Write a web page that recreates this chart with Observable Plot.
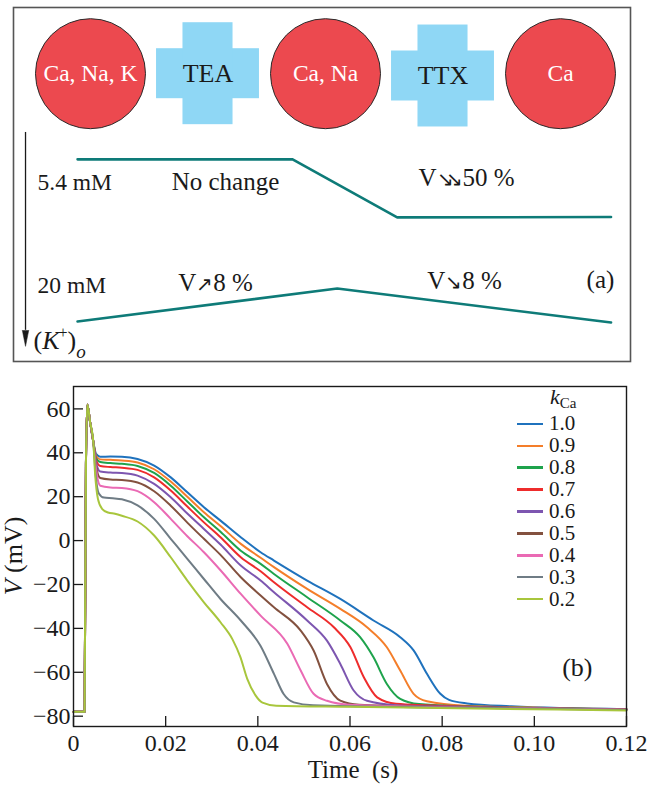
<!DOCTYPE html>
<html>
<head>
<meta charset="utf-8">
<script src="https://cdn.jsdelivr.net/npm/d3@7"></script>
<script src="https://cdn.jsdelivr.net/npm/@observablehq/plot@0.6"></script>
<style>
  html, body { margin: 0; padding: 0; background: #fff; }
  #wrap { position: relative; width: 652px; height: 788px; overflow: hidden;
          font-family: "Liberation Serif", "Times New Roman", serif; color: #1a1a1a; }
  #panelA { position: absolute; left: 0; top: 0; }
  #panelB { position: absolute; left: 0; top: 372px; }
  #legend { position: absolute; left: 517px; top: 413px; }
  #legendTitle { position: absolute; left: 550px; top: 386px; font-size: 22px; line-height: 22px; }
  #legendTitle sub { font-size: 15px; vertical-align: -4px; font-style: normal; }
  .lrow { height: 21.9px; display: flex; align-items: center; }
  .lline { width: 26px; height: 2.5px; }
  .llab { margin-left: 6px; font-size: 21px; line-height: 1; }
</style>
</head>
<body>
<div id="wrap">
  <div id="panelA"></div>
  <div id="panelB"></div>
  <div id="legendTitle"><i>k</i><sub>Ca</sub></div>
  <div id="legend"></div>
</div>
<script>
// ---------------- Panel (a): schematic ----------------
const stageIndex  = [0, 1, 2, 3, 4];
const stageKind   = ["channel", "blocker", "channel", "blocker", "channel"];
const stageLabels = ["Ca, Na, K", "TEA", "Ca, Na", "TTX", "Ca"];
const stageRow    = [18.7, 18.7, 18.7, 19.35, 18.7];

const k54Stage = [-0.11, 1.72, 2.61, 4.43];
const k54Row   = [42.9, 42.9, 59.3, 59.2];
const k20Stage = [-0.11, 2.10, 4.43];
const k20Row   = [88.7, 79.4, 89.0];

const concLabels = ["5.4 mM", "20 mM"];
const concStage  = [-0.451, -0.451];
const concRow    = [49.4, 78.5];

const effectLabels = ["No change", "V↘↘50 %", "V↗8 %", "V↘8 %", "(a)"];
const effectStage  = [1.149, 3.20, 1.064, 3.183, 4.34];
const effectRow    = [49.4, 48.3, 77.7, 77.4, 77.1];

const kAxisStage = [-0.553];
const kAxisRow   = [35.3, 91.2];
const kLabel = ["(K+)o"];
const kLabelStage = [-0.485];
const kLabelRow = [94.0];

// ---------------- Panel (b): action potentials ----------------
const kCa = ["1.0", "0.9", "0.8", "0.7", "0.6", "0.5", "0.4", "0.3", "0.2"];
const lineColors = ["#1f72bd", "#f47e2a", "#1ea34c", "#ee2c2c", "#7d56b0",
                    "#83513f", "#ea6ab4", "#6f7c85", "#a8c63c"];

const spike = [[0, -78], [0.0024, -78], [0.0027, 35], [0.0030, 62], [0.0036, 54], [0.0043, 45]];

const ap10 = [[0.0049, 39.5], [0.0058, 38.2], [0.0080, 38.3], [0.0105, 38.2], [0.0139, 37.2], [0.0175, 34.2],
  [0.0211, 28.8], [0.0247, 22], [0.0283, 15.2], [0.0319, 9.1], [0.0363, 1.5], [0.0406, -5.3], [0.0435, -9.1],
  [0.0507, -18.2], [0.0579, -26.6], [0.0651, -36.4], [0.0709, -44], [0.0738, -50], [0.0767, -60.7],
  [0.0796, -69.8], [0.0815, -72.6], [0.0854, -74.2], [0.095, -75.5], [0.12, -76.8]];
const ap09 = [[0.0049, 38.5], [0.0058, 37], [0.0080, 36.8], [0.0105, 36.5], [0.0139, 35.6], [0.0175, 32.5],
  [0.0211, 26.9], [0.0247, 20], [0.0283, 12.9], [0.0319, 6.6], [0.0363, -1.5], [0.0406, -7.8], [0.0435, -12.1],
  [0.0507, -22], [0.0579, -31.1], [0.0637, -39.5], [0.068, -48.6], [0.0709, -59.2], [0.0738, -69.8],
  [0.0767, -73.2], [0.085, -75.2], [0.12, -76.8]];
const ap08 = [[0.0049, 37.5], [0.0058, 35.8], [0.0080, 35.3], [0.0105, 35], [0.0139, 34], [0.0175, 30.8],
  [0.0211, 25], [0.0247, 17.8], [0.0283, 10.6], [0.0319, 4], [0.0363, -4.6], [0.0406, -10.6], [0.0435, -15.2],
  [0.0507, -25.8], [0.0579, -36.4], [0.0622, -44], [0.0651, -53.2], [0.068, -65.3], [0.0709, -72.1],
  [0.075, -74.5], [0.085, -75.5], [0.12, -76.9]];
const ap07 = [[0.0049, 36.5], [0.0058, 34], [0.0080, 33.5], [0.0105, 33.2], [0.0139, 32.2], [0.0175, 28.8],
  [0.0211, 22.8], [0.0247, 15.5], [0.0283, 8.3], [0.0319, 1.5], [0.0363, -7.6], [0.0406, -14], [0.0435, -19],
  [0.0507, -30.4], [0.0565, -39.5], [0.0601, -48.6], [0.063, -62.3], [0.0659, -71.4], [0.07, -74.3],
  [0.085, -75.6], [0.12, -76.9]];
const ap06 = [[0.0049, 35.5], [0.0058, 31.5], [0.0080, 31], [0.0105, 30.8], [0.0139, 29.6], [0.0175, 25.8],
  [0.0211, 19.7], [0.0247, 12.3], [0.0283, 5.3], [0.0319, -1.8], [0.0363, -11.4], [0.0406, -18.2],
  [0.0435, -23.5], [0.0507, -36.4], [0.055, -45.6], [0.0579, -56.2], [0.0608, -68.3], [0.0637, -73],
  [0.07, -75], [0.085, -75.8], [0.12, -77]];
const ap05 = [[0.0049, 34], [0.0058, 28.5], [0.0080, 27.8], [0.0105, 27.6], [0.0139, 26.5], [0.0175, 22.5],
  [0.0211, 15.9], [0.0247, 8.2], [0.0283, 0.8], [0.0319, -6.5], [0.0363, -16.7], [0.0406, -25],
  [0.0435, -30.4], [0.0493, -41], [0.0521, -50.1], [0.055, -65.3], [0.0579, -72.9], [0.062, -74.8],
  [0.08, -75.8], [0.12, -77]];
const ap04 = [[0.0049, 32.5], [0.0058, 25], [0.0080, 24.2], [0.0105, 24], [0.0139, 22.5], [0.0175, 17.5],
  [0.0211, 9.9], [0.0247, 2], [0.0283, -5.3], [0.0319, -13.5], [0.0363, -24.3], [0.0406, -34.2],
  [0.0464, -47], [0.0493, -59.2], [0.0521, -69.8], [0.055, -73], [0.06, -74.8], [0.08, -75.9], [0.12, -77.1]];
const ap03 = [[0.0048, 30], [0.0055, 21.5], [0.0066, 19.6], [0.0085, 19.3], [0.0105, 18.8], [0.0139, 16],
  [0.0175, 9.9], [0.0211, 0.8], [0.0247, -8.3], [0.0283, -17.5], [0.0319, -26.6], [0.0363, -36.4],
  [0.0406, -48], [0.0435, -60.7], [0.0456, -69.9], [0.0478, -73.7], [0.052, -75], [0.08, -76], [0.12, -77.2]];
const ap02 = [[0.0047, 30], [0.0053, 19], [0.0062, 14.5], [0.0075, 12.8], [0.0090, 12.2], [0.0105, 11.3],
  [0.0139, 8.7], [0.0175, 2.3], [0.0211, -7.6], [0.0247, -18.2], [0.0283, -28.1], [0.0319, -37.2],
  [0.0345, -45], [0.0362, -53], [0.0377, -63], [0.0395, -70.5], [0.041, -73.8], [0.044, -75.2],
  [0.06, -75.7], [0.12, -77.4]];
const apSeries = [ap10, ap09, ap08, ap07, ap06, ap05, ap04, ap03, ap02];

const xTicks = [0, 0.02, 0.04, 0.06, 0.08, 0.10, 0.12];
const xTickLabels = ["0", "0.02", "0.04", "0.06", "0.08", "0.10", "0.12"];
const yTicks = [60, 40, 20, 0, -20, -40, -60, -80];
const yTickLabels = ["60", "40", "20", "0", "\u221220", "\u221240", "\u221260", "\u221280"];
const yTitle = ["V (mV)"];
const yTitleAt = [-7];
const xTitle = ["Time \u00a0(s)"];

// ---------------- Build ----------------
const SERIF = "'Liberation Serif', 'Times New Roman', serif";
const RED = "#ec494f", CROSS = "#8fd7f5", TEAL = "#0e7b78";

const stages = stageIndex.map((s, i) => ({s, kind: stageKind[i], label: stageLabels[i], row: stageRow[i]}));
const channels = stages.filter(d => d.kind === "channel");
const blockers = stages.filter(d => d.kind === "blocker");
const k54 = k54Stage.map((s, i) => ({s, row: k54Row[i]}));
const k20 = k20Stage.map((s, i) => ({s, row: k20Row[i]}));
const conc = concLabels.map((t, i) => ({t, s: concStage[i], row: concRow[i]}));
const effects = effectLabels.map((t, i) => ({t, s: effectStage[i], row: effectRow[i]}));

const ARM = 0.213, ARM_LEN = 0.438, ROW_ARM = 7.06, ROW_LEN = 14.4;

const panelA = Plot.plot({
  width: 652, height: 372,
  marginLeft: 13, marginRight: 22, marginTop: 7, marginBottom: 11,
  x: {domain: [-0.6553, 4.5957], axis: null},
  y: {domain: [0, 100], reverse: true, axis: null},
  style: {fontFamily: SERIF, fontSize: "24px", background: "transparent", color: "#1a1a1a"},
  marks: [
    Plot.frame({stroke: "#555", strokeWidth: 1.6}),
    Plot.rect(blockers, {x1: d => d.s - ARM_LEN, x2: d => d.s + ARM_LEN, y1: d => d.row - ROW_ARM, y2: d => d.row + ROW_ARM, fill: CROSS}),
    Plot.rect(blockers, {x1: d => d.s - ARM, x2: d => d.s + ARM, y1: d => d.row - ROW_LEN, y2: d => d.row + ROW_LEN, fill: CROSS}),
    Plot.dot(channels, {x: "s", y: "row", r: 55, fill: RED, stroke: "#2b2b2b", strokeWidth: 1}),
    Plot.text(channels, {x: "s", y: "row", text: "label", fill: "white", fontSize: 23.5}),
    Plot.text(blockers, {x: "s", y: "row", text: "label", fill: "#1a1a1a", fontSize: 26}),
    Plot.line(k54, {x: "s", y: "row", stroke: TEAL, strokeWidth: 2.6}),
    Plot.line(k20, {x: "s", y: "row", stroke: TEAL, strokeWidth: 2.6}),
    Plot.ruleX(kAxisStage, {x: d => d, y1: kAxisRow[0], y2: kAxisRow[1], stroke: "#1a1a1a", strokeWidth: 1.3}),
    Plot.vector(kAxisStage, {x: d => d, y: kAxisRow[1], length: 16, rotate: 180, anchor: "start", shape: "spike", r: 3.2, fill: "#1a1a1a", stroke: "#1a1a1a", strokeWidth: 0.5}),
    Plot.text(conc, {x: "s", y: "row", text: "t", textAnchor: "start", fontSize: 23.5, fill: "#1a1a1a"}),
    Plot.text(effects, {x: "s", y: "row", text: "t", fontSize: 25, fill: "#1a1a1a"}),
    Plot.text(kLabel, {x: kLabelStage[0], y: kLabelRow[0], text: d => d, textAnchor: "start", fontSize: 26, fill: "#1a1a1a"})
  ]
});
document.getElementById("panelA").appendChild(panelA);

const rows = [];
apSeries.forEach((ser, i) => {
  spike.concat(ser).forEach(([t, v]) => rows.push({t, v, k: kCa[i]}));
});

const panelB = Plot.plot({
  width: 652, height: 416,
  marginLeft: 73, marginRight: 26, marginTop: 14, marginBottom: 62,
  x: {domain: [0, 0.12]},
  y: {domain: [-84.7, 70.2]},
  color: {domain: kCa, range: lineColors},
  style: {fontFamily: SERIF, fontSize: "24px", background: "transparent", color: "#1a1a1a", overflow: "visible"},
  marks: [
    Plot.line(rows, {x: "t", y: "v", z: "k", stroke: "k", strokeWidth: 2, curve: "monotone-x"}),
    Plot.frame({stroke: "#1a1a1a", strokeWidth: 1.4}),
    Plot.axisX(xTicks, {tickSize: -10, tickFormat: () => "", label: null, strokeWidth: 1.3}),
    Plot.axisX(xTicks, {tickSize: 0, tickPadding: 7, tickFormat: d => xTickLabels[xTicks.indexOf(d)], label: null, fontSize: 24}),
    Plot.axisY(yTicks, {tickSize: -10, tickFormat: () => "", label: null, strokeWidth: 1.3}),
    Plot.axisY(yTicks, {tickSize: 0, tickPadding: 3, tickFormat: d => yTickLabels[yTicks.indexOf(d)], label: null, fontSize: 24}),
    Plot.text(yTitle, {text: d => d, x: 0, y: yTitleAt[0], dx: -60, rotate: -90, fontSize: 26}),
    Plot.text(xTitle, {text: d => d, frameAnchor: "bottom", dx: 3, dy: 51, fontSize: 25}),
    Plot.text(["(b)"], {text: d => d, frameAnchor: "bottom-right", dx: -34, dy: -51, fontSize: 26})
  ]
});
document.getElementById("panelB").appendChild(panelB);

// rich text (italics, super/subscripts)
function rich(svg, plain, html) {
  svg.querySelectorAll("text").forEach(t => { if (t.textContent === plain) t.innerHTML = html; });
}
rich(panelA, "(K+)o", '(<tspan font-style="italic">K</tspan><tspan font-size="16" dx="-1" dy="-11">+</tspan><tspan dy="11">)</tspan><tspan font-style="italic" font-size="19" dy="9">o</tspan>');
rich(panelA, "V↘↘50 %", 'V<tspan font-size="20" letter-spacing="-8">↘</tspan><tspan font-size="20">↘</tspan>50 %');
rich(panelA, "V↗8 %", 'V<tspan font-size="20">↗</tspan>8 %');
rich(panelA, "V↘8 %", 'V<tspan font-size="20">↘</tspan>8 %');
rich(panelB, "V (mV)", '<tspan font-style="italic">V</tspan> (mV)');

// legend
const leg = document.getElementById("legend");
kCa.forEach((k, i) => {
  const r = document.createElement("div");
  r.className = "lrow";
  r.innerHTML = `<span class="lline" style="background:${lineColors[i]}"></span><span class="llab">${k}</span>`;
  leg.appendChild(r);
});
</script>
</body>
</html>
